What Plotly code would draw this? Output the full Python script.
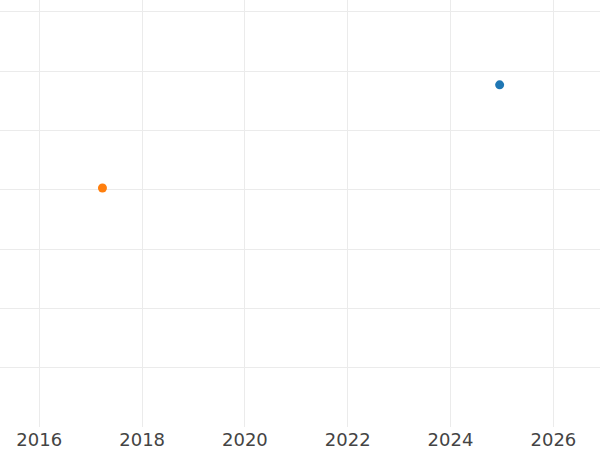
import plotly.graph_objects as go

# two series, one point each
series_names = ["A", "B"]
series_dates = [["2024-12-15"], ["2017-03-25"]]
series_values = [[5.77], [4.03]]
series_colors = ["#1f77b4", "#ff7f0e"]

x_ticks = ["2016-01-01", "2018-01-01", "2020-01-01", "2022-01-01", "2024-01-01", "2026-01-01"]
x_labels = ["2016", "2018", "2020", "2022", "2024", "2026"]

fig = go.Figure()
for name, xs, ys, col in zip(series_names, series_dates, series_values, series_colors):
    fig.add_trace(go.Scatter(x=xs, y=ys, mode="markers", name=name,
                             marker=dict(color=col, size=9)))

fig.update_layout(
    width=600, height=450,
    margin=dict(l=0, r=0, t=0, b=23),
    paper_bgcolor="white", plot_bgcolor="white",
    showlegend=False,
    font=dict(family="DejaVu Sans", size=18, color="#444444"),
)
fig.update_xaxes(
    type="date",
    range=["2015-03-28", "2026-11-28"],
    tickvals=x_ticks, ticktext=x_labels,
    showgrid=True, gridcolor="#ebebeb", gridwidth=1.45,
    zeroline=False, showline=False, ticks="",
)
fig.update_yaxes(
    range=[0, 7.2], dtick=1,
    showticklabels=False,
    showgrid=True, gridcolor="#ebebeb", gridwidth=1.45,
    zeroline=False, showline=False, ticks="",
)

# page has a default 8px body margin; the chart sits flush at the corner
fig.write_html("out.html", config={"displayModeBar": False},
               post_script="document.body.style.margin = '0';")
